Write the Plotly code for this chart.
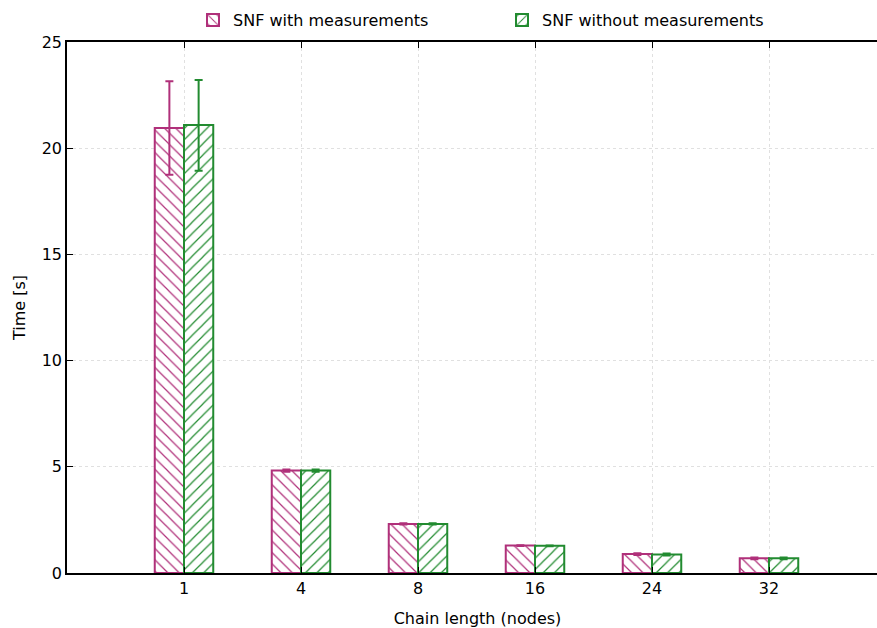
import plotly.graph_objects as go

categories = ["1", "4", "8", "16", "24", "32"]
with_meas = [20.95, 4.82, 2.31, 1.29, 0.89, 0.69]
with_meas_err_plus = [2.2, 0.05, 0.03, 0.02, 0.04, 0.04]
with_meas_err_minus = [2.2, 0.05, 0.03, 0.02, 0.04, 0.04]
without_meas = [21.09, 4.82, 2.31, 1.28, 0.87, 0.69]
without_meas_err_plus = [2.12, 0.05, 0.03, 0.02, 0.05, 0.04]
without_meas_err_minus = [2.15, 0.05, 0.03, 0.02, 0.05, 0.04]

MAG = "#b0307a"
GRN = "#228b30"

W = 888  # slightly wider than the window so the plot's right edge falls outside

fig = go.Figure()
fig.add_trace(go.Bar(
    x=categories, y=with_meas, name="SNF with measurements", legend="legend",
    marker=dict(color="white", line=dict(color=MAG, width=2),
                pattern=dict(shape="\\", fgcolor=MAG, bgcolor="white", fgopacity=1,
                             size=8, solidity=0.15)),
    error_y=dict(type="data", symmetric=False, array=with_meas_err_plus,
                 arrayminus=with_meas_err_minus, color=MAG, thickness=2, width=4),
))
fig.add_trace(go.Bar(
    x=categories, y=without_meas, name="SNF without measurements", legend="legend2",
    marker=dict(color="white", line=dict(color=GRN, width=2),
                pattern=dict(shape="/", fgcolor=GRN, bgcolor="white", fgopacity=1,
                             size=8, solidity=0.15)),
    error_y=dict(type="data", symmetric=False, array=without_meas_err_plus,
                 arrayminus=without_meas_err_minus, color=GRN, thickness=2, width=4),
))

legend_common = dict(orientation="h", xref="container", yref="container",
                     xanchor="left", y=0.968, yanchor="middle",
                     bgcolor="rgba(0,0,0,0)", font=dict(size=16))

fig.update_layout(
    width=W, height=628,
    margin=dict(l=67, r=0, t=42, b=55, autoexpand=False),
    paper_bgcolor="white", plot_bgcolor="white",
    font=dict(family="DejaVu Sans", size=16, color="black"),
    barmode="group", bargap=0.5, bargroupgap=0,
    showlegend=True,
    legend=dict(x=(235 - 42) / W, **legend_common),
    legend2=dict(x=(544 - 42) / W, **legend_common),
    xaxis=dict(
        type="category", range=[-1, (W - 184) / 117.0], automargin=False,
        title=dict(text="Chain length (nodes)", standoff=18, font=dict(size=16)),
        showline=True, linecolor="black", linewidth=1.5, mirror="ticks",
        ticks="inside", ticklen=6, tickcolor="black",
        showgrid=True, gridcolor="#e0e0e0", griddash="dot", gridwidth=1,
    ),
    yaxis=dict(
        range=[0, 25], dtick=5, automargin=False,
        title=dict(text="Time [s]", standoff=12, font=dict(size=16)),
        showline=True, linecolor="black", linewidth=1.5, mirror=False,
        ticks="inside", ticklen=6, tickcolor="black",
        showgrid=True, gridcolor="#e0e0e0", griddash="dot", gridwidth=1,
        zeroline=False,
    ),
)

fig.write_html("out.html", config={"displayModeBar": False},
               post_script="document.body.style.margin='0';document.body.style.overflow='hidden';"
                           "document.documentElement.style.overflow='hidden';")
